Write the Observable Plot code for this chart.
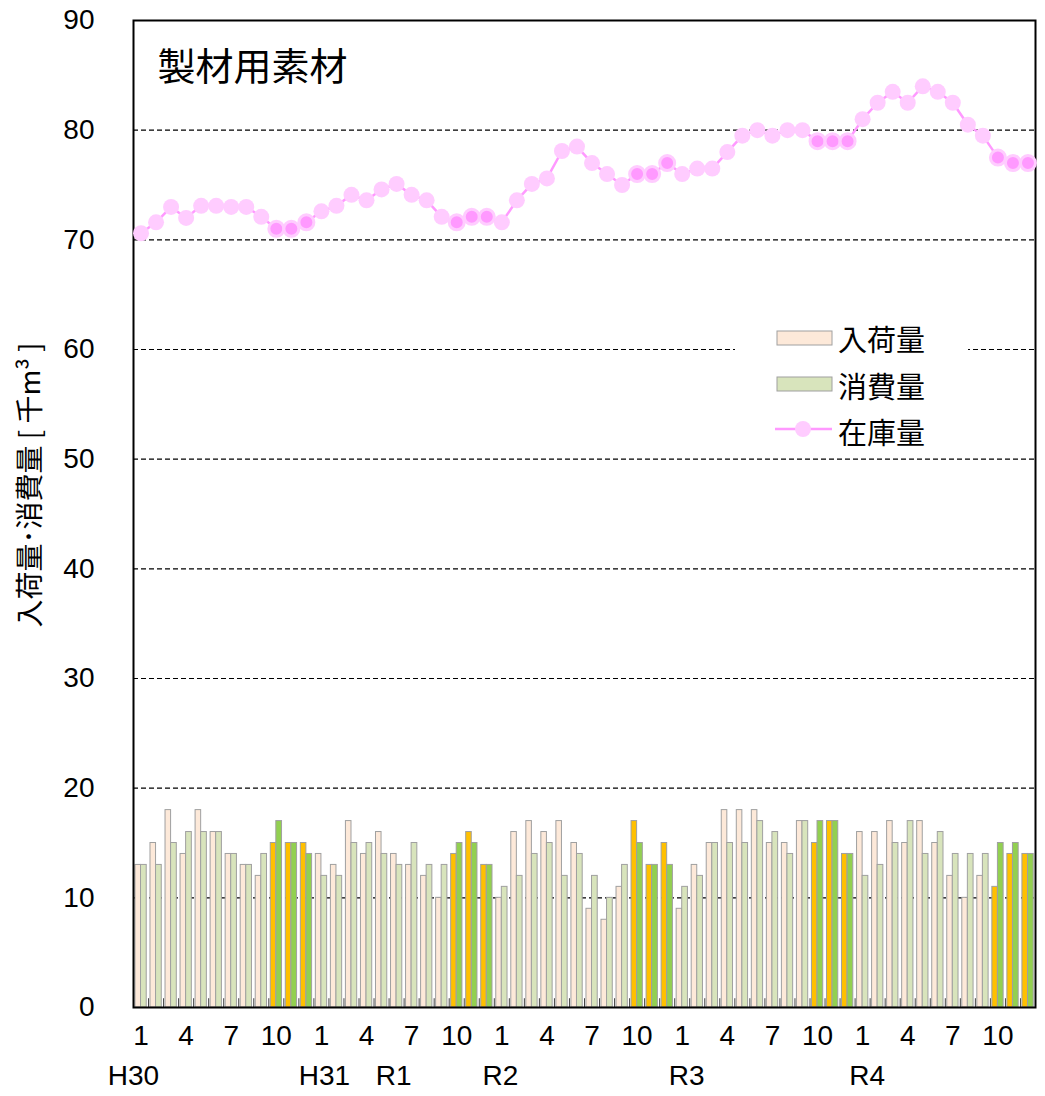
<!DOCTYPE html>
<html><head><meta charset="utf-8">
<script src="https://cdn.jsdelivr.net/npm/d3@7"></script>
<script src="https://cdn.jsdelivr.net/npm/@observablehq/plot@0.6"></script>
<style>
body{margin:0;background:#fff}
#chart{width:1045px;height:1096px}
</style>
</head><body><div id="chart"></div><script>
// ---- data (H30.1 .. R4.12, monthly) ----
const arrivals = [13,15,18,14,18,16,14,13,12,15,15,15,
                  14,13,17,14,16,14,13,12,10,14,16,13,
                  10,16,17,16,17,15,9,8,11,17,13,15,
                  9,13,15,18,18,18,15,15,17,15,17,14,
                  16,16,17,15,17,15,12,10,12,11,14,14];
const consumption = [13,13,15,16,16,16,14,13,14,17,15,14,
                     12,12,15,15,14,13,15,13,13,15,15,13,
                     11,12,14,15,12,14,12,10,13,15,13,13,
                     11,12,15,15,15,17,16,14,17,17,17,14,
                     12,13,15,17,14,16,14,14,14,15,15,14];
const stock = [70.6,71.6,73,72,73.1,73.1,73,73,72.1,71,71,71.6,
               72.6,73.1,74.1,73.6,74.6,75.1,74.1,73.6,72.1,71.6,72.1,72.1,
               71.6,73.6,75.1,75.6,78.1,78.5,77,76,75,76,76,77,
               76,76.5,76.5,78,79.5,80,79.5,80,80,79,79,79,
               81,82.5,83.5,82.5,84,83.5,82.5,80.5,79.5,77.5,77,77];
const monthTickLabels = [1,4,7,10];
const yearLabels = ["H30","H31","R1","R2","R3","R4"];
const yearLabelPos = [0,12.7,17.3,24.4,36.8,48.8];
const yTicks = [0,10,20,30,40,50,60,70,80,90];
const gridValues = [10,20,30,40,50,60,70,80];
const title = "製材用素材";
const yLabel = "入荷量･消費量 [ 千m³ ]";
const seriesNames = ["入荷量","消費量","在庫量"];

const data = arrivals.map((a,i)=>({i, a, c: consumption[i], s: stock[i], hl: (i%12) >= 9}));
const monthTicks = [];
for (let yr=0; yr<5; yr++) for (const m of monthTickLabels) monthTicks.push({x: yr*12 + m - 1 + 0.5, label: String(m)});
const yearTicks = yearLabels.map((t,k)=>({x: yearLabelPos[k], label: t}));

const FONT = "'Liberation Sans', Arial, 'Noto Sans CJK JP', sans-serif";
const JFONT = "'Noto Sans CJK JP', 'Liberation Sans', sans-serif";

const plot = Plot.plot({
  width:1045, height:1096,
  marginLeft:133, marginRight:10, marginTop:20, marginBottom:89,
  style:{fontFamily:FONT, fontSize:"28px", background:"#fff", color:"#000", overflow:"visible"},
  x:{domain:[0,60], axis:null},
  y:{domain:[0,90], axis:null},
  color:{type:"identity"},
  marks:[
    Plot.ruleY(gridValues, {y:d=>d, stroke:"#000", strokeWidth:1.2, strokeDasharray:"5,3"}),
    Plot.rectY(data, {x1:d=>d.i+0.13, x2:d=>d.i+0.5, y1:0, y2:"a",
      fill:d=>d.hl?"#ffc000":"#fde9d9", stroke:"#a0a0a0", strokeWidth:1}),
    Plot.rectY(data, {x1:d=>d.i+0.5, x2:d=>d.i+0.88, y1:0, y2:"c",
      fill:d=>d.hl?"#92d050":"#d8e4bc", stroke:"#a0a0a0", strokeWidth:1}),
    Plot.ruleX(d3.range(1,60), {x:d=>d, y1:0, y2:0.8, stroke:"#444", strokeWidth:1}),
    Plot.frame({stroke:"#000", strokeWidth:2}),
    Plot.line(data, {x:d=>d.i+0.5, y:"s", stroke:"#ff99ff", strokeWidth:2.5}),
    Plot.dot(data.filter(d=>!d.hl), {x:d=>d.i+0.5, y:"s", r:8, fill:"#ffccff", stroke:"none"}),
    Plot.dot(data.filter(d=>d.hl), {x:d=>d.i+0.5, y:"s", r:7.5, fill:"#ff99ff", stroke:"#ffccff", strokeWidth:3}),
    Plot.text(yTicks, {y:d=>d, frameAnchor:"left", dx:-39, textAnchor:"end", text:d=>String(d), fontSize:28}),
    Plot.text(monthTicks, {x:"x", frameAnchor:"bottom", dy:18, lineAnchor:"top", text:"label", fontSize:28}),
    Plot.text(yearTicks, {x:"x", frameAnchor:"bottom", dy:58, lineAnchor:"top", text:"label", fontSize:28}),
    Plot.text([title], {frameAnchor:"top-left", dx:24, dy:47, textAnchor:"start", lineAnchor:"middle",
      fontSize:38, fontFamily:JFONT})
  ]
});

const svg = d3.select(plot);
// y-axis label
svg.append("text")
  .attr("transform","translate(28,485) rotate(-90)")
  .attr("text-anchor","middle").attr("dominant-baseline","central")
  .attr("font-family",JFONT).attr("font-size",28).attr("fill","#000")
  .text(yLabel);

// legend inside plot
const lg = svg.append("g");
lg.append("rect").attr("x",735).attr("y",318).attr("width",233).attr("height",130).attr("fill","#fff");
lg.append("rect").attr("x",777).attr("y",331).attr("width",55).attr("height",14).attr("fill","#fde9d9").attr("stroke","#a0a0a0");
lg.append("rect").attr("x",777).attr("y",377).attr("width",55).attr("height",14).attr("fill","#d8e4bc").attr("stroke","#a0a0a0");
lg.append("line").attr("x1",775).attr("x2",832).attr("y1",429).attr("y2",429).attr("stroke","#ff99ff").attr("stroke-width",2.5);
lg.append("circle").attr("cx",803).attr("cy",429).attr("r",8).attr("fill","#ffccff");
[338,385,431].forEach((yy,k)=>{
  lg.append("text").attr("x",838).attr("y",yy).attr("text-anchor","start").attr("dominant-baseline","central")
    .attr("font-family",JFONT).attr("font-size",29).attr("fill","#000").text(seriesNames[k]);
});

document.getElementById("chart").appendChild(plot);
</script></body></html>
